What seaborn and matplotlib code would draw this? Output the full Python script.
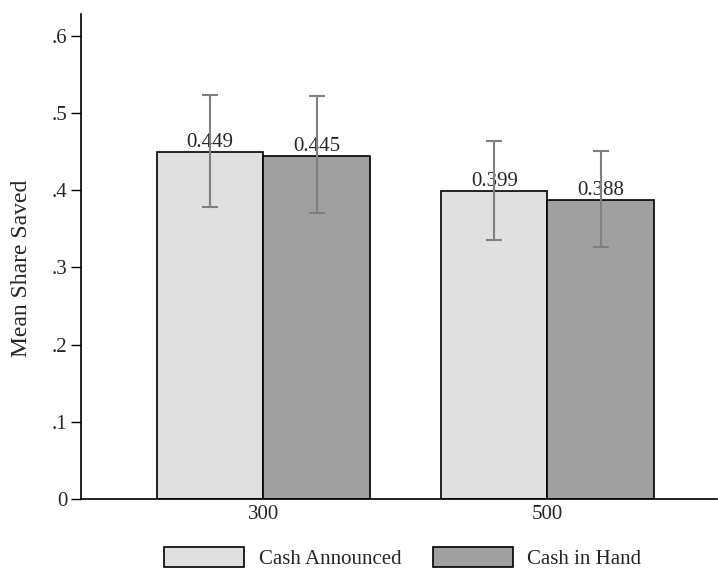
import numpy as np
import pandas as pd
import seaborn as sns
import matplotlib.pyplot as plt
from matplotlib.patches import Patch

# Values
amounts = ['300', '500']
treatments = ['Cash Announced', 'Cash in Hand']
means = {'Cash Announced': [0.449, 0.399], 'Cash in Hand': [0.445, 0.388]}
ci_low = {'Cash Announced': [0.378, 0.336], 'Cash in Hand': [0.371, 0.327]}
ci_high = {'Cash Announced': [0.523, 0.464], 'Cash in Hand': [0.522, 0.451]}
colors = ['#e0e0e0', '#a0a0a0']
yticks = [0, 0.1, 0.2, 0.3, 0.4, 0.5, 0.6]
ytick_labels = ['0', '.1', '.2', '.3', '.4', '.5', '.6']

# Long format table for seaborn
rows = []
for t in treatments:
    for i, a in enumerate(amounts):
        rows.append({'Amount': a, 'Treatment': t, 'Mean': means[t][i],
                     'Low': ci_low[t][i], 'High': ci_high[t][i]})
df = pd.DataFrame(rows)

sns.set_style('white')
plt.rcParams['font.family'] = ['Liberation Serif', 'DejaVu Serif']

fig = plt.figure(figsize=(7.18, 5.70), dpi=100)
ax = fig.add_axes([0.113, 0.1246, 0.885, 0.851])

sns.barplot(data=df, x='Amount', y='Mean', hue='Treatment', order=amounts,
            hue_order=treatments, palette=colors, errorbar=None, width=0.75,
            edgecolor='black', linewidth=1.2, legend=False, ax=ax)

# Error bars and value labels on each bar
for cont, t in zip(ax.containers, treatments):
    xs = [p.get_x() + p.get_width() / 2 for p in cont.patches]
    sub = df[df['Treatment'] == t].set_index('Amount').loc[amounts]
    ax.errorbar(xs, sub['Mean'], yerr=[sub['Mean'] - sub['Low'], sub['High'] - sub['Mean']],
                fmt='none', ecolor='#808080', elinewidth=1.5, capsize=6, capthick=1.5, zorder=5)
    ax.bar_label(cont, labels=[f'{v:.3f}' for v in sub['Mean']], padding=0, fontsize=15)

ax.set_ylim(0, 0.6285)
ax.set_xlim(-0.641, 1.595)
ax.set_yticks(yticks)
ax.set_yticklabels(ytick_labels)
ax.tick_params(axis='y', length=7, width=1, direction='out', left=True, labelsize=15, pad=3, color='black')
ax.tick_params(axis='x', length=0, labelsize=15, pad=4.5)
ax.set_xlabel('')
ax.set_ylabel('Mean Share Saved', fontsize=17)
# centred on the 0 to .6 range, like the reference
ax.yaxis.set_label_coords(-0.077, 0.475)
for s in ['top', 'right']:
    ax.spines[s].set_visible(False)
for s in ['left', 'bottom']:
    ax.spines[s].set_color('black')
    ax.spines[s].set_linewidth(1.2)

handles = [Patch(facecolor=c, edgecolor='black', linewidth=1.2) for c in colors]
fig.legend(handles, treatments, loc='center', bbox_to_anchor=(0.561, 0.021), ncol=2,
           frameon=False, fontsize=15, handlelength=3.85, handleheight=1.06,
           columnspacing=1.5, handletextpad=0.7, borderpad=0)

fig.savefig('out.png', dpi=100)
